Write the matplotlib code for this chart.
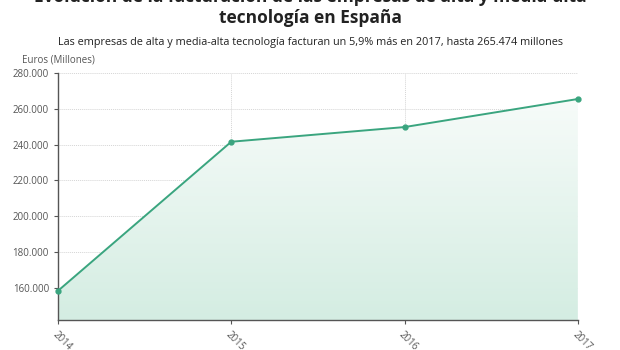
import numpy as np
import matplotlib.pyplot as plt
from matplotlib.colors import LinearSegmentedColormap
from matplotlib.ticker import FuncFormatter
from matplotlib.patches import Polygon

plt.rcParams["font.family"] = ["Open Sans", "DejaVu Sans"]

years = [2014, 2015, 2016, 2017]
facturacion = [158300, 241600, 249800, 265474]
y_ticks = [160000, 180000, 200000, 220000, 240000, 260000, 280000]

LINE = "#3aa57f"
GRID = "#d5d5d5"
TXT = "#555555"

fig = plt.figure(figsize=(6.2, 3.5), dpi=100)
ax = fig.add_axes([0.0935, 0.0857, 0.8385, 0.7057])
ymin, ymax = 142000, 280000

# degradado bajo la linea: verde abajo, casi blanco arriba
grad = np.linspace(0, 1, 256).reshape(-1, 1)
cmap = LinearSegmentedColormap.from_list("g", ["#fbfdfc", "#d4ede2"])
img = ax.imshow(grad, extent=[years[0], years[-1], ymin, ymax], origin="upper",
                aspect="auto", cmap=cmap, zorder=1)
poly = Polygon(list(zip(years, facturacion)) + [(years[-1], ymin), (years[0], ymin)],
               closed=True, facecolor="none", edgecolor="none")
ax.add_patch(poly)
img.set_clip_path(poly)

ax.plot(years, facturacion, color=LINE, lw=1.4, marker="o", ms=3.5, zorder=3, clip_on=False)

ax.set_xlim(years[0], years[-1])
ax.set_ylim(ymin, ymax)
ax.set_xticks(years)
ax.set_yticks(y_ticks)
ax.yaxis.set_major_formatter(FuncFormatter(lambda v, p: f"{int(v):,}".replace(",", ".")))
ax.grid(True, color=GRID, linestyle=(0, (1, 1)), lw=0.7, zorder=0)
ax.set_axisbelow(True)

for s in ["top", "right"]:
    ax.spines[s].set_visible(False)
for s in ["left", "bottom"]:
    ax.spines[s].set_color("#555555")
    ax.spines[s].set_linewidth(1.0)
ax.tick_params(axis="both", colors="#555555", labelcolor=TXT, labelsize=7, length=3, width=0.8)
plt.setp(ax.get_xticklabels(), rotation=-45, ha="left", rotation_mode="anchor")

fig.text(0.5, 1.008, "Evolución de la facturación de las empresas de alta y media-alta",
         ha="center", va="center", fontsize=12.5, fontweight="bold", color="#222222")
fig.text(0.5, 0.948, "tecnología en España", ha="center", va="center",
         fontsize=12.5, fontweight="bold", color="#222222")
fig.text(0.5, 0.88, "Las empresas de alta y media-alta tecnología facturan un 5,9% más en 2017, hasta 265.474 millones",
         ha="center", va="center", fontsize=7.8, color="#222222")
fig.text(0.035, 0.828, "Euros (Millones)", ha="left", va="center", fontsize=7, color=TXT)

fig.savefig("out.png", dpi=100)
